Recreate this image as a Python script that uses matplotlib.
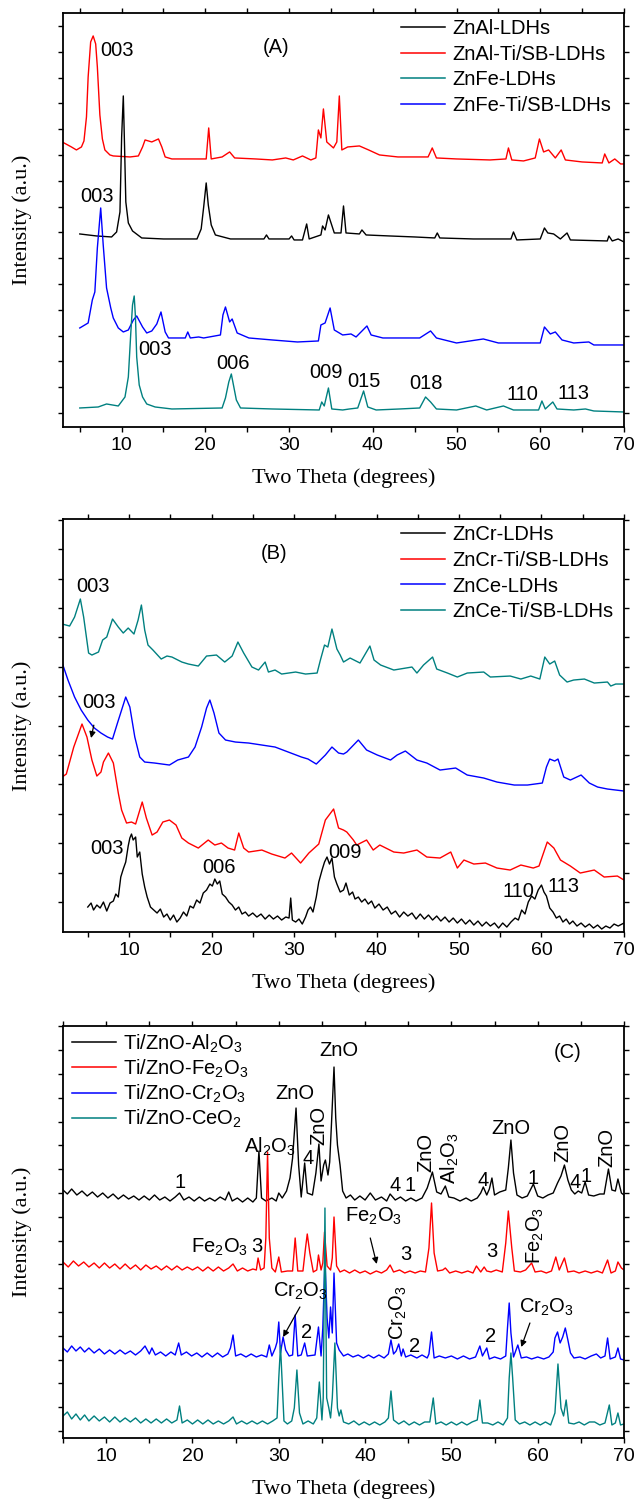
import numpy as np
import matplotlib
matplotlib.use("Agg")
import matplotlib.pyplot as plt
from matplotlib.ticker import MultipleLocator

plt.rcParams["font.family"] = ["Liberation Sans", "DejaVu Sans"]
plt.rcParams["mathtext.fontset"] = "custom"
plt.rcParams["mathtext.rm"] = "Liberation Sans"
plt.rcParams["mathtext.it"] = "Liberation Sans:italic"
plt.rcParams["mathtext.bf"] = "Liberation Sans:bold"

BLACK, RED, BLUE, TEAL = "#000000", "#ff0000", "#0000ff", "#008080"

# ---------------- Panel A (two theta, intensity a.u.) ----------------
a_znal_ti = [(2.9,285),(4.0,280),(4.6,277),(5.2,280),(5.5,286),(5.8,310),(6.0,350),(6.3,385),(6.6,391),(6.9,383),
             (7.1,360),(7.4,312),(7.7,288),(8.0,277),(8.6,272),(9.0,271),(11.0,270),(12.0,271),(12.5,280),(12.8,287),
             (13.6,285),(14.4,288),(14.8,280),(15.2,270),(16,268),(18,268),(20.1,268),(20.4,299),(20.7,268),(22.0,270),
             (22.9,275),(23.5,269),(26,268),(28,267),(29.6,269),(30.5,267),(31.6,271),(32.6,267),(33.2,269),(33.5,297),
             (33.8,289),(34.1,318),(34.5,285),(35.3,279),(35.7,285),(36.0,331),(36.3,277),(37,280),(38.4,281),(39.5,277),
             (40.8,272),(43,270),(46.6,270),(47.1,279),(47.6,269),(50,268),(54,267),(55.9,268),(56.2,279),(56.6,267),
             (58,266),(59.4,269),(59.9,288),(60.4,275),(61.0,277),(61.8,269),(62.5,277),(63.0,267),(65,265),(67.4,264),
             (67.7,273),(68.2,264),(68.9,268),(69.6,263),(70,263)]
a_znal = [(5,193),(7,191),(8.8,190),(9.4,195),(9.8,215),(10.0,290),(10.2,331),(10.35,280),(10.5,225),(10.8,204),
          (11.3,196),(12.4,189),(15,188),(19.0,188),(19.5,198),(19.8,220),(20.1,244),(20.35,222),(20.7,202),(21.2,192),
          (23,188),(27.0,188),(27.3,192),(27.6,188),(30.0,188),(30.3,191),(30.6,187),(31.6,187),(32.1,203),(32.4,188),
          (33.8,192),(34.0,201),(34.3,197),(34.7,212),(35.4,194),(36.2,194),(36.5,221),(36.8,194),(38.4,193),(38.7,197),
          (39.2,192),(42,191),(45,190),(47.4,189),(47.7,194),(48.0,189),(52,188),(56.5,188),(56.8,195),(57.2,187),
          (60.0,188),(60.5,199),(60.9,194),(61.6,193),(62.4,188),(63.2,194),(63.6,187),(68.0,186),(68.2,191),(68.6,186),
          (69.3,188),(70,185)]
a_znfe_ti = [(5,99),(6.0,104),(6.5,127),(6.8,135),(7.1,179),(7.5,219),(7.8,182),(8.2,139),(8.7,119),(9.0,109),
             (9.6,99),(10.2,95),(10.8,97),(11.4,107),(11.8,111),(12.5,100),(13.0,94),(13.6,96),(14.2,103),(14.7,115),
             (15.2,95),(15.6,89),(17.6,89),(17.9,95),(18.2,89),(19.2,90),(19.8,89),(21.8,92),(22.1,112),(22.4,120),
             (22.9,105),(23.2,108),(23.8,94),(25.2,89),(28,87),(31,85),(33.5,86),(33.8,102),(34.3,104),(34.9,119),
             (35.4,97),(36.4,92),(37.4,93),(38,90),(39.3,101),(39.8,92),(41.2,89),(45.6,89),(46.9,96),(47.6,89),
             (50,84),(53.2,88),(55,84),(60,84),(60.5,100),(61.2,93),(61.8,95),(62.6,87),(64,84),(65.8,85),(66.4,82),
             (70,82)]
a_znfe = [(5,19),(7.2,20),(8.2,23),(9.6,21),(10.4,30),(10.8,50),(11.1,95),(11.3,122),(11.5,131),(11.65,110),
          (11.8,70),(12.1,42),(12.5,30),(13.0,23),(14,20),(16,18),(22.0,19),(22.4,29),(22.8,45),(23.1,53),(23.4,40),
          (23.7,27),(24.2,19),(28,18),(33.6,17),(33.9,25),(34.2,21),(34.7,39),(35.1,18),(36.4,17),(37.2,18),(38.2,19),
          (38.9,36),(39.4,20),(40.4,17),(43.2,18),(45.6,19),(46.3,30),(46.9,25),(47.6,18),(50,17),(52.3,21),(53.6,17),
          (55.6,21),(56.8,17),(59.8,17),(60.2,26),(60.6,18),(61.5,25),(62.0,18),(64,17),(65.4,18),(66.4,16),(70,15)]
a_labels = ["ZnAl-LDHs", "ZnAl-Ti/SB-LDHs", "ZnFe-LDHs", "ZnFe-Ti/SB-LDHs"]
a_hkl = [("003", 7.4, 376), ("003", 5.0, 230), ("003", 12.0, 77), ("006", 21.3, 63), ("009", 32.4, 54),
         ("015", 37.0, 45), ("018", 44.3, 43), ("110", 56.0, 32), ("113", 62.1, 33)]

# ---------------- Panel B ----------------
b_znce_ti = [(1.9,308),(2.8,306),(3.4,315),(4.1,333),(4.5,315),(5.1,279),(5.5,277),(6.3,280),(6.8,292),(7.3,295),
             (8.0,313),(8.7,305),(9.3,299),(9.9,304),(10.6,298),(11.1,312),(11.5,327),(11.9,302),(12.3,287),(12.9,282),
             (13.9,273),(14.6,276),(15.2,275),(16.4,270),(17.2,268),(18.4,266),(19.4,276),(20.6,277),(21.6,270),(22.5,276),
             (23.2,290),(23.9,279),(24.9,265),(25.7,262),(26.5,270),(26.9,260),(27.7,262),(28.5,258),(30.2,260),(31.4,258),
             (32.8,259),(33.2,272),(33.7,287),(34.1,285),(34.6,303),(35.2,283),(35.6,277),(36.0,270),(36.8,274),(38.0,269),
             (39.2,286),(39.7,272),(40.5,267),(42.1,262),(44.3,265),(44.9,259),(45.7,267),(46.8,275),(47.3,263),(48.6,259),
             (49.8,255),(51.0,259),(53.0,260),(53.8,255),(56.2,256),(57.5,253),(58.7,256),(59.8,253),(60.4,275),(61.0,268),
             (61.6,271),(62.2,257),(63.1,250),(63.9,252),(65.2,253),(66.4,249),(68.0,250),(68.4,246),(69.0,248),(70,248)]
b_znce = [(1.9,269),(2.6,252),(3.4,235),(4.2,222),(5.0,212),(5.8,204),(6.6,199),(7.4,195),(8.0,193),(8.6,209),
          (9.6,235),(10.1,225),(10.7,195),(11.3,175),(11.9,170),(13.1,169),(14.9,167),(15.9,172),(17.2,175),(18.0,185),
          (18.8,205),(19.4,224),(19.8,232),(20.3,219),(20.9,199),(21.7,192),(22.9,190),(24.5,189),(26.1,187),(27.7,185),
          (29.3,180),(30.9,175),(31.7,173),(32.7,168),(33.8,177),(34.6,185),(35.4,179),(36.0,178),(36.4,180),(37.8,192),
          (38.8,182),(40.1,177),(41.7,172),(42.5,177),(43.5,181),(44.9,172),(46.1,169),(47.7,162),(49.6,164),(51.0,157),
          (53.0,154),(54.6,150),(56.7,147),(58.3,147),(60.1,149),(60.6,165),(61.0,173),(61.6,171),(62.0,173),(62.7,155),
          (63.5,152),(64.8,157),(65.8,149),(66.8,145),(68.0,143),(70,141)]
b_zncr_ti = [(1.9,155),(2.4,158),(3.3,185),(4.3,208),(4.9,195),(5.5,172),(6.1,156),(6.6,160),(6.9,170),(7.5,179),
             (8.1,169),(8.7,139),(9.1,122),(9.7,109),(10.3,110),(10.8,108),(11.2,119),(11.6,130),(12.1,114),(12.8,97),
             (13.4,100),(14.1,110),(14.9,112),(15.7,107),(16.4,94),(17.2,89),(18.4,84),(19.6,92),(20.4,87),(21.2,89),
             (22.0,84),(22.8,82),(23.3,99),(23.9,84),(24.5,80),(26.1,82),(27.3,78),(28.9,74),(29.7,79),(30.8,69),
             (31.8,79),(33.0,88),(33.8,112),(34.8,123),(35.4,104),(36.0,102),(36.4,100),(37.2,92),(37.6,87),(38.8,92),
             (39.6,82),(40.4,87),(42.1,80),(43.3,79),(44.9,82),(46.1,75),(47.7,74),(49.0,80),(49.8,64),(50.6,72),
             (51.8,68),(53.2,69),(54.6,64),(56.2,62),(57.5,67),(59.0,64),(59.7,66),(60.7,90),(61.5,84),(62.3,72),
             (63.5,66),(64.7,59),(66.4,62),(67.6,55),(69.2,56),(70,52)]
b_zncr = [(5.0,25),(5.4,29),(5.7,22),(6.1,27),(6.5,24),(6.9,30),(7.3,21),(7.7,29),(8.1,31),(8.4,38),(8.7,35),(9.0,55),
          (9.3,63),(9.6,70),(9.9,86),(10.1,94),(10.3,98),(10.5,92),(10.8,95),(11.0,75),(11.3,80),(11.6,58),(11.9,45),
          (12.2,35),(12.6,25),(13.0,22),(13.4,19),(13.8,23),(14.2,15),(14.6,18),(15.0,12),(15.4,17),(15.8,10),(16.2,14),
          (16.6,20),(17.0,16),(17.4,26),(17.8,24),(18.2,32),(18.6,29),(19.0,39),(19.4,42),(19.8,48),(20.1,46),(20.4,53),
          (20.7,48),(21.0,51),(21.3,38),(21.7,35),(22.1,30),(22.5,27),(22.9,22),(23.3,25),(23.7,18),(24.1,20),(24.5,16),
          (25.0,19),(25.5,15),(26.0,18),(26.5,13),(27.0,17),(27.5,13),(28.0,16),(28.5,12),(29.0,15),(29.4,14),(29.6,34),
          (29.8,12),(30.2,10),(30.6,13),(31.0,8),(31.4,15),(31.7,22),(32.0,25),(32.3,20),(32.7,35),(33.0,50),(33.4,62),
          (33.7,70),(34.0,75),(34.3,68),(34.6,74),(34.9,55),(35.2,48),(35.6,40),(36.0,42),(36.3,49),(36.7,37),(37.1,40),
          (37.4,33),(37.8,35),(38.2,30),(38.6,33),(39.0,28),(39.4,31),(39.8,24),(40.3,28),(40.8,22),(41.3,25),(41.8,18),
          (42.3,21),(42.8,15),(43.3,20),(43.8,16),(44.3,19),(44.8,13),(45.3,18),(45.8,13),(46.3,17),(46.8,12),(47.3,16),
          (47.8,11),(48.3,15),(48.8,10),(49.3,14),(49.8,9),(50.3,13),(50.8,8),(51.3,12),(51.8,7),(52.3,11),(52.8,6),
          (53.3,10),(53.8,6),(54.3,9),(54.8,4),(55.3,9),(55.8,5),(56.3,10),(56.8,14),(57.2,12),(57.6,22),(58.0,18),
          (58.4,30),(58.8,36),(59.2,33),(59.6,42),(60.0,47),(60.3,40),(60.6,36),(61.0,24),(61.4,20),(61.8,14),(62.2,16),
          (62.6,10),(63.0,13),(63.4,8),(63.8,11),(64.3,6),(64.8,9),(65.3,5),(65.8,8),(66.3,4),(66.8,7),(67.3,3),
          (67.8,6),(68.3,4),(68.8,8),(69.3,6),(70,9)]
b_labels = ["ZnCr-LDHs", "ZnCr-Ti/SB-LDHs", "ZnCe-LDHs", "ZnCe-Ti/SB-LDHs"]
b_hkl = [("003", 3.6, 346), ("003", 5.3, 84), ("006", 18.9, 65), ("009", 34.1, 80),
         ("110", 55.3, 41), ("113", 60.7, 46)]

# ---------------- Panel C ----------------
c_al = [(5,248),(5.5,244),(6.0,249),(6.6,243),(7.2,247),(7.8,242),(8.4,246),(9.0,241),(9.6,245),(10.2,240),
        (10.8,244),(11.4,239),(12.0,243),(12.6,239),(13.2,242),(13.8,238),(14.4,242),(15.0,238),(15.6,243),(16.2,238),
        (16.8,241),(17.4,237),(18.0,241),(18.5,245),(19.0,238),(19.6,241),(20.2,237),(20.8,241),(21.4,237),(22.0,240),
        (22.6,237),(23.2,241),(23.8,238),(24.2,246),(24.6,237),(25.2,240),(25.8,236),(26.4,240),(27.0,236),(27.4,240),
        (27.7,287),(28.0,240),(28.5,237),(29.2,240),(29.7,237),(30.0,245),(30.4,240),(30.9,247),(31.3,260),(31.6,280),
        (32.0,330),(32.3,273),(32.6,241),(33.0,275),(33.3,245),(33.9,243),(34.3,265),(34.65,294),(34.9,257),(35.2,273),
        (35.4,278),(35.7,263),(35.9,276),(36.1,313),(36.4,371),(36.6,320),(36.8,293),(37.1,273),(37.4,247),(37.8,240),
        (38.3,243),(38.8,238),(39.4,242),(40.0,238),(40.6,245),(41.2,238),(41.9,241),(42.5,237),(42.9,244),(43.5,238),
        (44.1,241),(44.7,237),(45.3,240),(45.9,237),(46.6,240),(47.2,250),(47.8,266),(48.3,246),(48.8,244),(49.3,252),
        (49.7,241),(50.3,240),(51.0,237),(51.7,240),(52.3,237),(53.0,240),(53.4,245),(53.7,251),(54.1,243),(54.4,249),
        (54.7,260),(55.0,243),(55.6,246),(56.3,248),(56.6,270),(56.9,298),(57.2,265),(57.6,243),(58.2,240),(58.8,242),
        (59.5,254),(60.0,242),(60.6,240),(61.2,243),(61.8,245),(62.3,255),(62.7,262),(63.1,273),(63.5,258),(63.9,248),
        (64.3,244),(64.7,247),(65.1,245),(65.5,256),(65.9,243),(66.5,242),(67.2,244),(67.7,244),(68.2,269),(68.6,248),
        (69.0,247),(69.3,259),(69.7,245),(70,243)]
c_fe = [(5,176),(5.6,171),(6.2,177),(6.8,172),(7.4,176),(8.0,171),(8.6,175),(9.2,170),(9.8,175),(10.4,170),
        (11.0,174),(11.6,169),(12.2,174),(12.8,169),(13.4,173),(14.0,168),(14.6,173),(15.2,169),(15.8,172),(16.4,168),
        (17.0,172),(17.6,168),(18.2,172),(18.8,168),(19.4,171),(20.0,168),(20.6,171),(21.2,167),(21.8,171),(22.4,167),
        (23.0,171),(23.6,167),(24.2,170),(24.7,174),(25.2,167),(25.8,170),(26.4,167),(27.0,169),(27.4,168),(27.6,180),
        (27.9,168),(28.3,170),(28.5,200),(28.7,286),(28.9,200),(29.2,170),(29.6,166),(30.0,181),(30.3,166),(31.0,167),
        (31.6,167),(31.9,200),(32.2,167),(32.8,167),(33.1,190),(33.3,204),(33.6,185),(34.0,166),(34.4,168),(34.6,183),
        (34.9,168),(35.1,175),(35.3,206),(35.6,172),(36.0,168),(36.2,180),(36.4,221),(36.7,172),(37.1,166),(37.6,168),
        (38.2,165),(38.8,168),(39.4,165),(40.0,167),(40.6,164),(41.3,167),(41.9,165),(42.5,168),(42.9,173),(43.3,166),
        (44.0,168),(44.6,165),(45.2,167),(45.8,165),(46.4,167),(47.0,166),(47.4,190),(47.7,235),(48.0,185),(48.4,167),
        (49.0,168),(49.3,170),(49.8,165),(50.5,167),(51.2,165),(51.9,167),(52.5,165),(52.9,172),(53.4,166),(53.8,171),
        (54.1,167),(54.6,166),(55.2,168),(55.9,166),(56.3,195),(56.6,227),(57.0,190),(57.3,167),(58.0,166),(58.6,168),
        (59.3,175),(59.7,166),(60.4,167),(61.0,165),(61.6,167),(62.1,181),(62.5,168),(63.1,180),(63.5,166),(64.2,167),
        (64.8,165),(65.5,167),(66.2,165),(66.9,167),(67.5,165),(68.1,178),(68.5,165),(69.0,167),(69.3,176),(69.7,170),
        (70,168)]
c_cr = [(5,90),(5.5,86),(6.0,92),(6.5,87),(7.0,91),(7.5,86),(8.0,90),(8.6,85),(9.2,89),(9.8,84),(10.4,88),(11.0,84),
        (11.6,88),(12.2,84),(12.8,87),(13.4,83),(14.0,87),(14.5,92),(15.0,84),(15.3,90),(15.7,83),(16.3,86),(16.9,82),
        (17.5,86),(18.0,83),(18.4,95),(18.7,83),(19.3,86),(19.9,82),(20.5,85),(21.1,81),(21.7,85),(22.3,81),(22.9,85),
        (23.5,81),(24.1,84),(24.4,90),(24.7,103),(25.0,82),(25.6,84),(26.2,81),(26.8,84),(27.4,81),(28.0,83),(28.6,81),
        (28.9,93),(29.2,82),(29.6,90),(29.8,96),(30.0,116),(30.2,85),(30.5,101),(30.8,88),(31.2,82),(31.6,83),(31.9,123),
        (32.2,82),(32.6,83),(33.0,95),(33.3,82),(34.2,83),(34.6,111),(34.9,82),(35.1,110),(35.35,178),(35.6,120),
        (35.8,100),(36.0,131),(36.2,105),(36.4,165),(36.7,95),(37.0,88),(37.5,82),(38.0,84),(38.6,81),(39.2,83),
        (39.8,80),(40.4,83),(41.0,80),(41.6,83),(42.2,80),(42.7,84),(43.0,98),(43.3,84),(43.6,87),(43.9,94),(44.2,82),
        (44.4,89),(44.7,81),(45.3,83),(46.0,80),(46.6,83),(47.2,80),(47.4,84),(47.7,106),(48.0,80),(48.6,82),(49.3,80),
        (50.0,82),(50.7,79),(51.4,82),(52.1,79),(52.8,81),(53.3,92),(53.6,82),(54.1,90),(54.4,79),(55.0,81),(55.7,79),
        (56.3,82),(56.5,110),(56.7,135),(56.9,105),(57.2,81),(57.7,93),(58.1,80),(58.7,81),(59.3,79),(60.0,81),
        (60.7,79),(61.3,81),(61.8,86),(62.0,100),(62.3,106),(62.6,95),(62.9,101),(63.2,110),(63.5,98),(63.8,85),
        (64.2,80),(64.9,81),(65.5,79),(66.2,82),(66.8,84),(67.3,80),(67.8,82),(68.1,100),(68.4,79),(69.0,81),(69.3,90),
        (69.6,79),(70,78)]
c_ce = [(5,22),(5.5,26),(6.0,19),(6.5,24),(7.0,18),(7.5,23),(8.0,17),(8.6,22),(9.2,17),(9.8,21),(10.4,16),(11.0,21),
        (11.6,16),(12.2,20),(12.8,16),(13.4,20),(14.0,15),(14.6,19),(15.2,15),(15.8,19),(16.4,15),(17.0,19),(17.6,15),
        (18.2,18),(18.5,32),(18.8,15),(19.4,18),(20.0,14),(20.6,18),(21.2,14),(21.8,18),(22.4,14),(23.0,17),(23.6,14),
        (24.2,17),(24.7,21),(25.1,14),(25.7,17),(26.3,14),(26.9,17),(27.5,14),(28.1,17),(28.7,14),(29.3,17),(29.8,20),
        (30.0,60),(30.2,92),(30.4,55),(30.6,17),(31.0,14),(31.5,17),(31.8,30),(32.1,68),(32.4,25),(32.8,14),(33.4,17),
        (34.0,14),(34.4,20),(34.7,56),(35.0,18),(35.15,40),(35.35,230),(35.55,40),(35.8,30),(36.0,20),(36.2,40),
        (36.5,95),(36.8,30),(37.0,22),(37.2,28),(37.5,16),(38.1,14),(38.7,17),(39.3,13),(39.9,16),(40.5,13),(41.1,16),
        (41.7,13),(42.3,16),(42.7,20),(43.0,47),(43.3,18),(43.9,14),(44.5,17),(45.1,13),(45.7,16),(46.3,13),(46.9,16),
        (47.5,16),(47.9,40),(48.2,14),(48.8,16),(49.4,13),(50.0,16),(50.6,13),(51.2,16),(51.8,13),(52.4,16),(53.0,18),
        (53.3,38),(53.6,15),(54.2,15),(54.8,13),(55.4,16),(56.0,13),(56.5,20),(56.7,60),(56.9,85),(57.1,60),(57.4,18),
        (57.9,14),(58.5,16),(59.1,13),(59.7,16),(60.3,13),(60.9,16),(61.5,13),(62.0,25),(62.35,74),(62.7,30),(63.0,22),
        (63.3,38),(63.6,15),(64.2,14),(64.8,16),(65.4,13),(66.0,16),(66.6,16),(67.2,13),(67.8,15),(68.3,33),(68.6,13),
        (69.0,15),(69.3,25),(69.6,13),(70,14)]
c_labels = ["Ti/ZnO-Al$_2$O$_3$", "Ti/ZnO-Fe$_2$O$_3$", "Ti/ZnO-Cr$_2$O$_3$", "Ti/ZnO-CeO$_2$"]
# (text, x, y, rotation)
c_phase = [("ZnO", 37.0, 388, 0), ("ZnO", 31.9, 345, 0), ("ZnO", 34.6, 313, 90), ("Al$_2$O$_3$", 29.0, 291, 0),
           ("4", 33.4, 280, 0), ("1", 18.55, 256, 0), ("4", 43.5, 253, 0), ("1", 45.2, 253, 0),
           ("ZnO", 47.1, 286, 90), ("Al$_2$O$_3$", 49.8, 280, 90), ("4", 53.7, 258, 0), ("ZnO", 56.9, 310, 0),
           ("1", 59.5, 260, 0), ("ZnO", 62.9, 296, 90), ("4", 64.3, 256, 0), ("1", 65.6, 262, 0),
           ("ZnO", 68.0, 291, 90), ("Fe$_2$O$_3$", 23.1, 191, 0), ("3", 27.4, 191, 0), ("3", 44.7, 183, 0),
           ("3", 54.7, 186, 0), ("Fe$_2$O$_3$", 59.7, 203, 90), ("2", 33.2, 105, 0),
           ("Cr$_2$O$_3$", 43.9, 125, 90), ("2", 45.7, 91, 0), ("2", 54.5, 101, 0)]
# (text, text_x, text_y, arrow_tail_x, arrow_tail_y, head_x, head_y)
c_arrows = [("Cr$_2$O$_3$", 32.45, 136, 32.45, 131, 30.5, 101),
            ("Fe$_2$O$_3$", 41.0, 211, 40.6, 200, 41.35, 174),
            ("Cr$_2$O$_3$", 61.0, 120, 59.1, 115, 58.1, 91)]

FS = 14.5


def setup_axes(ax, xlim, ymax, ystart, ystep):
    ax.set_xlim(*xlim)
    ax.set_ylim(0, ymax)
    ax.xaxis.set_major_locator(MultipleLocator(10))
    ax.xaxis.set_minor_locator(MultipleLocator(5))
    ax.set_yticks(np.arange(ystart, ymax, ystep))
    ax.tick_params(axis="both", which="both", direction="out", length=3.5, width=1.0,
                   top=True, right=True, labelsize=14, pad=4)
    ax.tick_params(axis="y", labelleft=False)
    for s in ax.spines.values():
        s.set_linewidth(1.3)
    ax.set_xlabel("Two Theta (degrees)", family=["Liberation Serif"], fontsize=16)
    ax.set_ylabel("Intensity (a.u.)", family=["Liberation Serif"], fontsize=16)
    ax.xaxis.set_label_coords(0.5, -0.1)
    ax.yaxis.set_label_coords(-0.055, 0.5)


def curve(ax, pts, color):
    arr = np.array(pts)
    ax.plot(arr[:, 0], arr[:, 1], color=color, lw=1.0)


fig = plt.figure(figsize=(6.36, 15.04), dpi=100)
W = 0.882
axA = fig.add_axes([0.0991, 0.7161, W, 0.2753])
axB = fig.add_axes([0.0991, 0.3803, W, 0.2746])
axC = fig.add_axes([0.0991, 0.0439, W, 0.2739])

leg_kw = dict(loc="upper left", frameon=False, fontsize=FS, handlelength=2.2,
              handletextpad=0.35, borderpad=0, borderaxespad=0)

# ---- A ----
setup_axes(axA, (3, 70), 414, 14, 25.8)
curve(axA, a_znal_ti, RED)
curve(axA, a_znal, BLACK)
curve(axA, a_znfe_ti, BLUE)
curve(axA, a_znfe, TEAL)
handles = [plt.Line2D([], [], color=c, lw=1.1) for c in (BLACK, RED, TEAL, BLUE)]
axA.legend(handles, a_labels, bbox_to_anchor=(0.6025, 0.985), labelspacing=0.33, **leg_kw)
for t, x, y in a_hkl:
    axA.text(x, y, t, fontsize=FS, ha="left", va="center")
axA.text(28.4, 379, "(A)", fontsize=FS, ha="center", va="center")

# ---- B ----
setup_axes(axB, (2, 70), 413, 30, 29.4)
curve(axB, b_znce_ti, TEAL)
curve(axB, b_znce, BLUE)
curve(axB, b_zncr_ti, RED)
curve(axB, b_zncr, BLACK)
handles = [plt.Line2D([], [], color=c, lw=1.1) for c in (BLACK, RED, BLUE, TEAL)]
axB.legend(handles, b_labels, bbox_to_anchor=(0.6025, 0.985), labelspacing=0.33, **leg_kw)
for t, x, y in b_hkl:
    axB.text(x, y, t, fontsize=FS, ha="left", va="center")
axB.annotate("003", xy=(5.4, 194), xytext=(4.3, 230), fontsize=FS, ha="left", va="center",
             arrowprops=dict(arrowstyle="-|>", color="black", lw=0.9, mutation_scale=9,
                             shrinkA=8, shrinkB=0))
axB.text(27.6, 379, "(B)", fontsize=FS, ha="center", va="center")

# ---- C ----
setup_axes(axC, (5, 70), 412, 7, 23.8)
curve(axC, c_al, BLACK)
curve(axC, c_fe, RED)
curve(axC, c_cr, BLUE)
curve(axC, c_ce, TEAL)
handles = [plt.Line2D([], [], color=c, lw=1.1) for c in (BLACK, RED, BLUE, TEAL)]
axC.legend(handles, c_labels, bbox_to_anchor=(0.016, 0.985), labelspacing=0.15, **leg_kw)
for t, x, y, r in c_phase:
    axC.text(x, y, t, fontsize=FS, ha="center", va="center", rotation=r)
for t, tx, ty, x0, y0, x1, y1 in c_arrows:
    axC.text(tx, ty, t, fontsize=FS, ha="center", va="bottom")
    axC.annotate("", xy=(x1, y1), xytext=(x0, y0),
                 arrowprops=dict(arrowstyle="-|>", color="black", lw=0.9, mutation_scale=9,
                                 shrinkA=0, shrinkB=0))
axC.text(63.5, 386, "(C)", fontsize=FS, ha="center", va="center")

fig.savefig("out.png", dpi=100)
